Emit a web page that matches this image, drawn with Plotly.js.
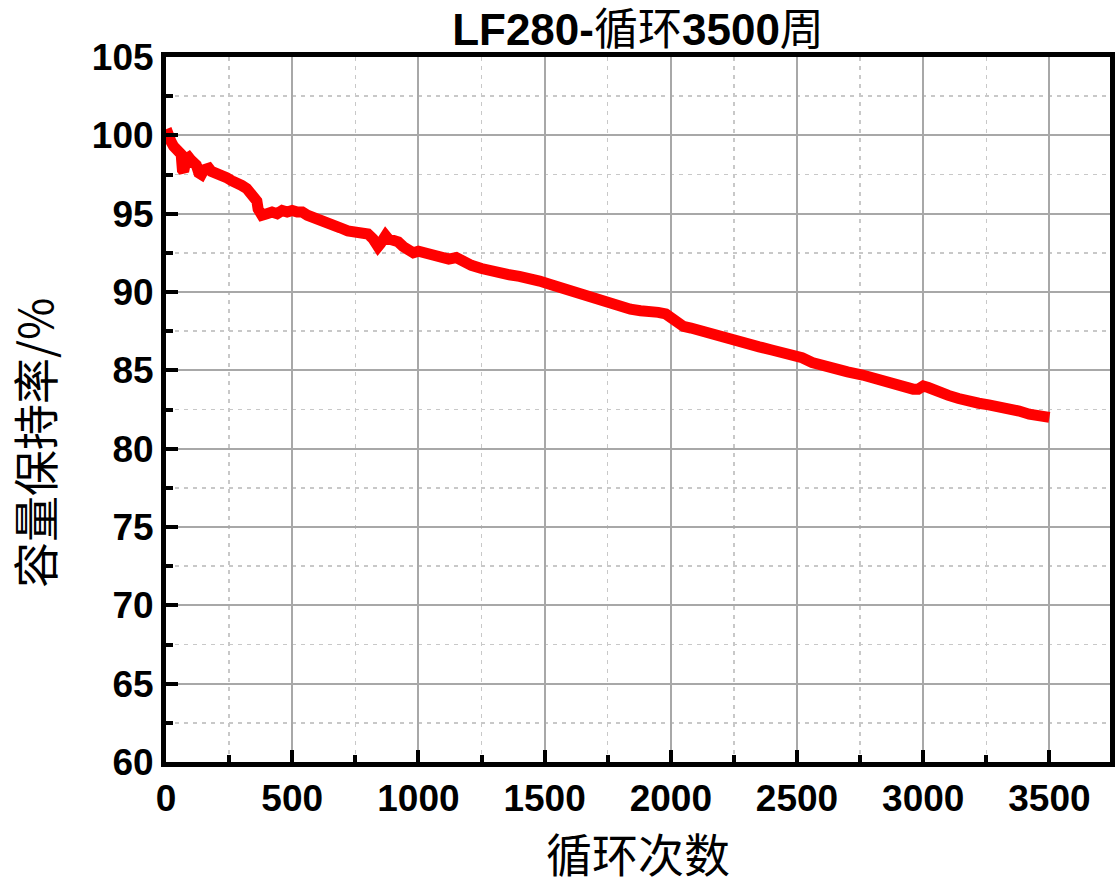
<!DOCTYPE html>
<html>
<head>
<meta charset="utf-8">
<script src="https://cdn.plot.ly/plotly-3.0.1.min.js"></script>
<style>html,body{margin:0;padding:0;background:#fff;}#chart{width:1115px;height:888px;}</style>
</head>
<body>
<div id="chart"></div>
<script>
const cycles = [1,5,10,20,30,40,50,60,65,70,80,90,100,110,120,130,140,150,160,170,180,200,220,240,260,280,300,320,340,350,360,365,370,380,400,420,440,460,480,500,520,540,560,580,600,630,660,690,720,750,780,800,820,840,850,860,870,880,900,920,940,960,980,1000,1030,1060,1090,1120,1150,1180,1210,1250,1290,1320,1360,1400,1440,1480,1520,1560,1600,1640,1680,1720,1760,1800,1840,1880,1920,1950,1980,2000,2020,2050,2080,2120,2170,2220,2260,2300,2350,2400,2430,2470,2520,2560,2580,2620,2660,2700,2760,2800,2850,2880,2920,2960,2980,3000,3020,3060,3100,3140,3180,3220,3260,3300,3340,3380,3420,3460,3500];
const retention = [100.4,100.1,99.7,99.6,99.3,99.2,98.9,98.8,97.8,97.7,98.5,98.6,98.4,98.3,98.1,97.6,97.5,97.8,97.9,97.9,97.7,97.6,97.5,97.3,97.1,97.0,96.8,96.6,96.3,96.1,95.8,95.3,94.9,94.9,95.0,95.1,95.0,95.2,95.1,95.2,95.1,95.1,94.9,94.8,94.7,94.5,94.4,94.1,93.9,93.8,93.6,93.7,93.4,92.9,93.1,93.5,93.6,93.4,93.3,93.2,92.9,92.6,92.5,92.6,92.5,92.4,92.2,92.1,92.2,91.9,91.7,91.5,91.3,91.2,91.1,91.0,90.9,90.7,90.5,90.3,90.0,89.8,89.6,89.4,89.2,89.1,88.9,88.8,88.8,88.7,88.6,88.4,88.0,87.8,87.7,87.5,87.3,87.0,86.8,86.6,86.5,86.3,86.2,86.0,85.8,85.5,85.4,85.3,85.1,84.9,84.7,84.5,84.3,84.2,84.0,83.8,83.8,84.0,83.9,83.6,83.4,83.2,83.0,82.9,82.8,82.7,82.5,82.4,82.2,82.1,82.0];
const xTicks = [0,500,1000,1500,2000,2500,3000,3500];
const yTicks = [60,65,70,75,80,85,90,95,100,105];
const chartTitle = '<b>LF280-</b>循环<b>3500</b>周';
const xTitle = '循环次数';
const yTitle = '容量保持率/%';

const numFont = {family:'Liberation Sans, Arial, sans-serif', size:37, color:'#000', weight:'bold'};
const cjkFont = {family:'Noto Sans CJK SC, Liberation Sans, sans-serif', size:46, color:'#000'};

const axisCommon = {
  showline:true, mirror:true, linecolor:'#000', linewidth:5,
  ticks:'inside', ticklen:12, tickwidth:4, tickcolor:'#000',
  showgrid:true, gridcolor:'#a8a8a8', gridwidth:2,
  zeroline:false, tickfont:numFont
};
const minorCommon = {ticks:'inside', ticklen:7, tickwidth:4, tickcolor:'#000', showgrid:true, gridcolor:'#c8c8c8', griddash:'4px,5px', gridwidth:1.5};

const trace = {
  x: cycles, y: retention, type:'scatter', mode:'lines',
  line:{color:'#ff0000', width:11}, showlegend:false
};

const layout = {
  width:1115, height:888,
  margin:{l:166, r:5, t:57, b:126},
  paper_bgcolor:'#fff', plot_bgcolor:'#fff',
  title:{text:chartTitle, font:{family:'Liberation Sans, Noto Sans CJK SC, sans-serif', size:44, color:'#000'}, xref:'paper', x:0.5, xanchor:'center', yref:'container', y:0.967, yanchor:'middle'},
  xaxis: Object.assign({}, axisCommon, {
    range:[0,3740], tickvals:xTicks, ticktext:xTicks.map(String),
    minor:Object.assign({dtick:250, tick0:0}, minorCommon),
    title:{text:xTitle, font:cjkFont, standoff:6}
  }),
  yaxis: Object.assign({}, axisCommon, {
    range:[60,105], tickvals:yTicks, ticktext:yTicks.map(String),
    minor:Object.assign({dtick:2.5, tick0:60}, minorCommon)
  }),
  annotations:[{
    text:yTitle, textangle:-90, showarrow:false,
    xref:'paper', x:0, xanchor:'center', xshift:-133,
    yref:'paper', y:0.4525, yanchor:'middle',
    font:{family:'Noto Sans CJK SC, Liberation Sans, sans-serif', size:46, color:'#000'}
  }]
};

Plotly.newPlot('chart', [trace], layout, {staticPlot:true, displayModeBar:false});
</script>
</body>
</html>
